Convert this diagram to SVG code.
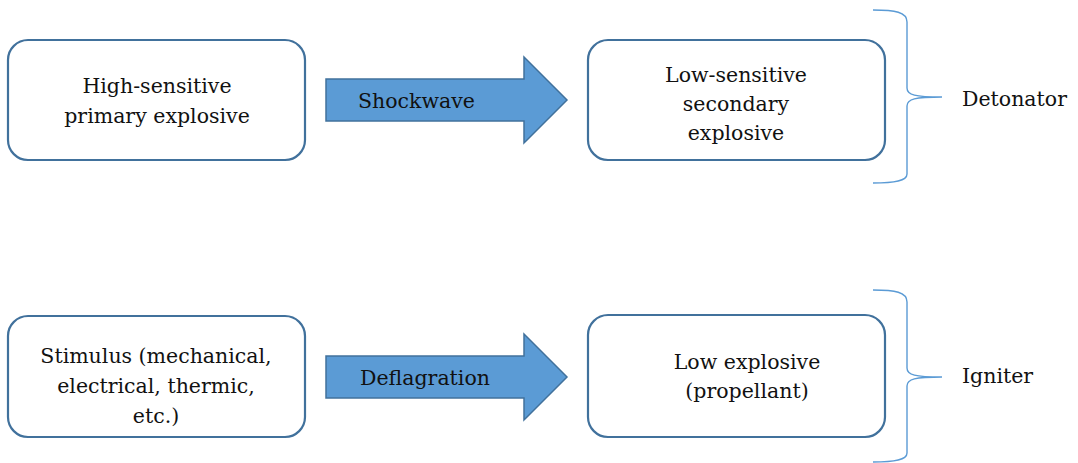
<svg xmlns="http://www.w3.org/2000/svg" width="1078" height="463" viewBox="0 0 1078 463">
  <style>
    .box { fill: #ffffff; stroke: #41719C; stroke-width: 2.2; }
    .arrow { fill: #5B9BD5; stroke: #41719C; stroke-width: 1.5; stroke-linejoin: miter; }
    .brace { fill: none; stroke: #5B9BD5; stroke-width: 1.4; }
    .lbl { font-family: 'DejaVu Serif', 'Liberation Serif', serif; font-size: 20.5px; fill: #111111; }
    .c { text-anchor: middle; }
  </style>
  <rect width="1078" height="463" fill="#ffffff"/>

  <!-- Detonator chain -->
  <g id="primary">
    <rect class="box" x="8" y="40" width="297" height="120" rx="20"/>
    <text class="lbl c" x="157" y="93">High-sensitive</text>
    <text class="lbl c" x="157" y="123">primary explosive</text>
  </g>
  <g id="secondary">
    <rect class="box" x="588" y="40" width="297" height="120" rx="20"/>
    <text class="lbl c" x="736" y="82">Low-sensitive</text>
    <text class="lbl c" x="736" y="111">secondary</text>
    <text class="lbl c" x="736" y="140">explosive</text>
  </g>

  <!-- Igniter chain -->
  <g id="stimulus">
    <rect class="box" x="8" y="316" width="297" height="121" rx="20"/>
    <text class="lbl c" x="156" y="363">Stimulus (mechanical,</text>
    <text class="lbl c" x="156" y="393">electrical, thermic,</text>
    <text class="lbl c" x="156" y="423">etc.)</text>
  </g>
  <g id="low-explosive">
    <rect class="box" x="588" y="315" width="297" height="122" rx="20"/>
    <text class="lbl c" x="747" y="369">Low explosive</text>
    <text class="lbl c" x="747" y="398">(propellant)</text>
  </g>

  <g id="connectors">
    <g id="shockwave">
      <path class="arrow" d="M326 79 H524 V57 L567 100 L524 143 V121 H326 Z"/>
      <text class="lbl" x="358" y="108">Shockwave</text>
    </g>
    <g id="deflagration">
      <path class="arrow" d="M326 356 H524 V334 L567 377 L524 420 V398 H326 Z"/>
      <text class="lbl" x="360" y="385">Deflagration</text>
    </g>
  </g>

  <!-- Grouping braces -->
  <g id="detonator">
    <path class="brace" d="M873 10 C895 10 907 12 907 22 V88 C907 95 915 97 942 97 C915 97 907 99 907 106 V174 C907 181 895 183 873 183"/>
    <text class="lbl" x="962" y="106">Detonator</text>
  </g>
  <g id="igniter">
    <path class="brace" d="M873 290 C895 290 907 292 907 302 V368 C907 375 915 377 942 377 C915 377 907 379 907 386 V453 C907 460 895 462 873 462"/>
    <text class="lbl" x="962" y="383">Igniter</text>
  </g>
</svg>
